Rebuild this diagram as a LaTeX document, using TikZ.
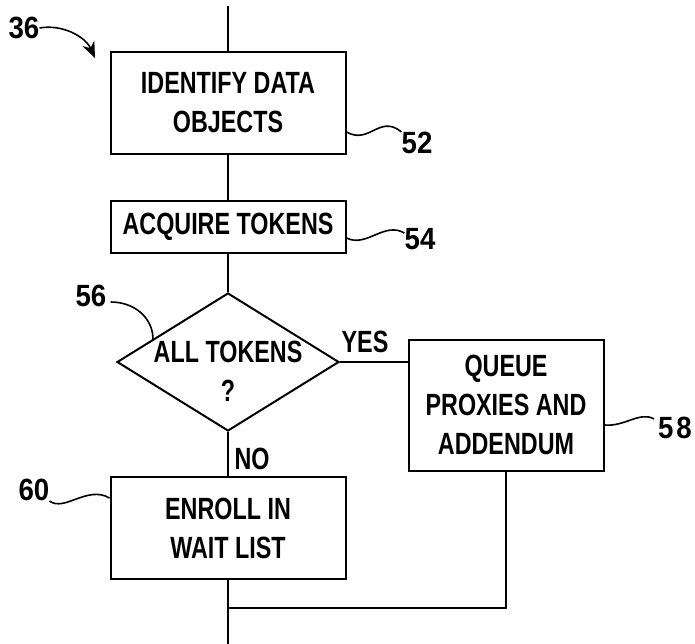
\documentclass[tikz,border=0pt]{standalone}
\usepackage{fontspec}
\newfontfamily\boxfont{Liberation Sans}[FakeStretch=0.76]
\newfontfamily\numfont{Liberation Sans}[FakeStretch=0.9]
\usetikzlibrary{shapes.geometric,arrows.meta,positioning,calc}

\begin{document}
\begin{tikzpicture}[
    x=1pt, y=-1pt,
    box/.style={draw, rectangle, line width=2pt, minimum width=235pt, minimum height=102pt, align=center, font=\boxfont\bfseries\fontsize{30.7}{39}\selectfont},
    decision/.style={draw, diamond, line width=2pt, minimum width=222pt, minimum height=138pt, inner sep=0pt},
    txt/.style={align=center, font=\boxfont\bfseries\fontsize{30.7}{39}\selectfont},
    num/.style={inner sep=0pt, font=\numfont\bfseries\fontsize{30.7}{36}\selectfont},
    flow/.style={line width=2pt},
    lead/.style={line width=1.6pt}
]
    \useasboundingbox (0,0) rectangle (695,644);

    % Steps
    \node [box] (identify) at (228,103) {IDENTIFY DATA\\OBJECTS};
    \node [box, minimum height=52pt] (acquire) at (228,227) {ACQUIRE TOKENS};
    \node [decision] (tokens) at (228,362) {};
    \node [txt] (tokenstext) at (228,371) {ALL TOKENS\\?};
    \node [box, minimum width=195pt, minimum height=131pt] (queue) at (506,405) {QUEUE\\PROXIES AND\\ADDENDUM};
    \node [box] (enroll) at (228,528) {ENROLL IN\\WAIT LIST};

    \coordinate (start) at (228,6);
    \coordinate (join) at (228,608);
    \coordinate (finish) at (228,644);
    \coordinate (entry) at (95,58);

    % Flow lines
    \draw [flow] (start) -- (identify);
    \draw [flow] (identify) -- (acquire);
    \draw [flow] (acquire) -- (tokens.north);
    \draw [flow] (tokens.south) -- (enroll);
    \draw [flow] (tokens.east) -- (tokens.east -| queue.west);
    \draw [flow] (queue.south) |- (join);
    \draw [flow] (enroll) -- (finish);

    % Branch labels
    \node [txt] (yes) at (365,342) {YES};
    \node [txt] (no) at (252,459) {NO};

    % Reference numerals
    \node [num] (n36) at (24,28) {36};
    \node [num] (n52) at (417,143) {52};
    \node [num] (n54) at (420,239) {54};
    \node [num] (n56) at (91,296) {56};
    \node [num] (n58) at (675,428) {5\kern3pt8};
    \node [num] (n60) at (34,490) {60};

    \draw [lead, -{Stealth[length=16pt, width=13pt]}] (n36.east) .. controls +(22,-4) and +(-10,-22) .. (entry);
    \draw [lead] ([yshift=-29pt]identify.east) .. controls +(23,13) and +(-22,-18) .. (n52.north west);
    \draw [lead] ([yshift=-11pt]acquire.east) .. controls +(20,10) and +(-20,-12) .. ([yshift=-5pt]n54.north west);
    \draw [lead] ([xshift=4pt,yshift=-6pt]n56.east) .. controls +(25,0) and +(0,-20) .. ($(tokens.west)!0.33!(tokens.north)$);
    \draw [lead] ([yshift=-20pt]queue.east) .. controls +(20,2) and +(-14,-8) .. ([xshift=-4pt,yshift=-2pt]n58.north west);
    \draw [lead] (n60.south east) .. controls +(15,11) and +(-22,-13) .. ([yshift=30pt]enroll.west);
\end{tikzpicture}
\end{document}
